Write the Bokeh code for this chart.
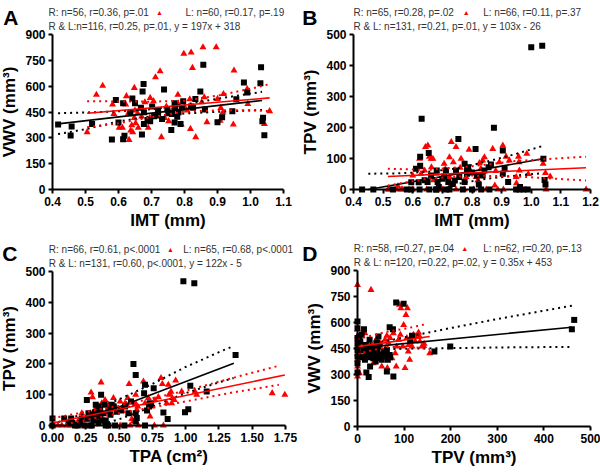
from bokeh.plotting import figure
from bokeh.layouts import row, column
from bokeh.models import Range1d, FixedTicker, Label, NumeralTickFormatter, LinearAxis
from bokeh.embed import file_html
from bokeh.resources import INLINE

FONT = "Liberation Sans"

# ---------------- Panel A: VWV vs IMT ----------------
A_R_x = [0.417,0.458,0.455,0.52,0.58,0.592,0.60,0.614,0.618,0.614,0.642,0.65,0.636,0.676,0.673,0.668,0.677,0.677,0.671,0.696,
         0.702,0.708,0.72,0.732,0.738,0.748,0.751,0.76,0.762,0.77,0.772,0.77,0.778,0.782,0.788,0.792,0.796,0.82,0.826,0.833,
         0.848,0.857,0.862,0.90,0.914,0.945,0.957,0.98,0.99,1.032,1.03,1.038,1.036,1.042,0.72,0.688]
A_R_y = [377,366,313,381,290,520,389,501,312,292,528,501,443,613,569,474,449,381,319,397,
         482,426,430,410,580,464,443,346,439,501,478,389,422,449,381,474,513,482,474,526,
         569,724,464,391,420,455,524,621,563,710,617,416,397,315,459,404]
A_L_x = [0.505,0.533,0.552,0.582,0.602,0.612,0.624,0.632,0.637,0.64,0.643,0.648,0.652,0.658,0.66,0.67,0.69,0.696,0.706,0.712,
         0.726,0.73,0.745,0.752,0.762,0.78,0.79,0.798,0.808,0.816,0.82,0.818,0.824,0.834,0.856,0.86,0.868,0.896,0.90,0.908,
         0.918,0.95,0.948,0.99,1.042,1.058,0.63,0.695,0.65,0.622,0.782,0.91,0.74,0.586,0.68,0.852,0.916,0.992,0.802,0.648]
A_L_y = [333,550,602,493,358,358,542,288,342,373,333,590,385,443,358,424,358,532,513,652,
         687,304,482,397,459,550,377,788,459,524,795,352,706,304,826,536,391,826,526,400,
         555,691,377,584,381,455,443,416,459,493,493,474,416,439,507,507,447,497,474,416]
A_R_fit_x = [0.417, 1.035]
A_R_fit_y = [381, 517]
A_R_hi_x = [0.417, 0.50, 0.60, 0.70, 0.80, 0.90, 1.035]
A_R_hi_y = [443, 447, 454, 466, 493, 527, 567]
A_R_lo_x = [0.417, 0.50, 0.60, 0.70, 0.80, 0.90, 1.035]
A_R_lo_y = [322, 350, 395, 425, 441, 451, 462]
A_L_fit_x = [0.505, 1.058]
A_L_fit_y = [443, 532]
A_L_hi_x = [0.505, 0.60, 0.70, 0.80, 0.90, 1.00, 1.058]
A_L_hi_y = [513, 511, 510, 516, 545, 585, 612]
A_L_lo_x = [0.505, 0.60, 0.70, 0.80, 0.90, 1.00, 1.058]
A_L_lo_y = [362, 385, 420, 452, 460, 460, 455]
A_xticks = [0.4, 0.5, 0.6, 0.7, 0.8, 0.9, 1.0, 1.1]
A_yticks = [0, 150, 300, 450, 600, 750, 900]

# ---------------- Panel B: TPV vs IMT ----------------
B_R_x = [0.429,0.467,0.533,0.595,0.623,0.63,0.625,0.625,0.611,0.595,0.62,0.65,0.654,0.662,0.681,0.684,0.688,0.679,0.706,0.712,
         0.72,0.724,0.742,0.746,0.754,0.769,0.775,0.783,0.787,0.783,0.8,0.812,0.817,0.823,0.831,0.836,0.842,0.856,0.864,0.874,
         0.904,0.91,0.922,0.949,0.962,0.974,1.0,1.037,1.041,1.045,1.048,0.988,0.656,0.68,0.757,0.775,0.713,0.859,0.904,0.735,
         0.64,0.70,0.80,0.58,0.96]
B_R_y = [0,0,0,0,0,228,106,77,67,23,23,24,118,45,61,24,8,0,42,61,
         24,0,29,61,163,0,24,61,72,51,0,131,45,16,0,45,61,72,81,199,
         126,67,24,0,8,0,459,464,99,31,16,0,0,0,40,83,0,0,51,18,
         30,35,55,0,0]
B_L_x = [0.516,0.544,0.566,0.623,0.628,0.643,0.651,0.656,0.662,0.668,0.64,0.647,0.663,0.69,0.706,0.724,0.73,0.737,0.746,0.763,
         0.746,0.774,0.79,0.794,0.805,0.814,0.825,0.836,0.842,0.848,0.87,0.877,0.887,0.904,0.906,0.915,0.926,0.949,0.957,0.985,
         0.96,1.048,1.05,1.064,1.185,0.521,0.561,0.6,0.7,0.679,0.78,0.83,0.892,0.628,0.724,0.958,1.04,0.60,0.67,0.76,
         0.82,0.95,0.88,0.71,0.55,0.99]
B_L_y = [0,0,0,99,72,137,142,106,99,99,61,0,72,0,83,104,153,88,137,99,
         0,0,128,61,0,40,85,94,104,0,131,13,0,142,0,106,94,40,106,115,
         61,53,0,42,0,0,0,0,0,51,40,67,88,51,40,88,83,45,30,70,
         30,20,60,65,10,50]
B_R_fit_x = [0.45, 1.04]
B_R_fit_y = [0, 99]
B_R_hi_x = [0.45, 0.55, 0.65, 0.75, 0.85, 0.95, 1.04]
B_R_hi_y = [51, 52, 57, 68, 90, 115, 141]
B_R_lo_x = [0.68, 0.75, 0.85, 0.95, 1.04]
B_R_lo_y = [0, 18, 35, 45, 53]
B_L_fit_x = [0.516, 1.185]
B_L_fit_y = [42, 70]
B_L_hi_x = [0.516, 0.65, 0.80, 0.95, 1.185]
B_L_hi_y = [67, 63, 75, 92, 106]
B_L_lo_x = [0.516, 0.65, 0.80, 0.95, 1.185]
B_L_lo_y = [13, 35, 45, 42, 29]
B_xticks = [0.4, 0.5, 0.6, 0.7, 0.8, 0.9, 1.0, 1.1, 1.2]
B_yticks = [0, 100, 200, 300, 400, 500]

# ---------------- Panel C: TPV vs TPA ----------------
C_R_x = [0,0,0.088,0.14,0.15,0.17,0.19,0.24,0.258,0.265,0.283,0.295,0.308,0.325,0.34,0.35,0.358,0.365,0.375,0.39,
         0.4,0.4,0.42,0.435,0.445,0.46,0.515,0.54,0.59,0.608,0.625,0.633,0.625,0.695,0.695,0.71,0.725,0.74,0.76,0.833,
         0.865,0.983,0.995,1.02,1.035,1.065,1.158,1.375,0.22,0.32,0.383,0.345,0.27,0.47,0.12,0.21,0.42,0.545,0.73,0.688,
         0.625,0.345,0.57,0.483,0.308,0.36]
C_R_y = [23,0,23,23,8,0,0,0,83,23,0,0,16,67,35,29,51,100,16,67,
         16,0,0,35,67,62,49,0,78,200,164,24,13,132,0,49,62,67,121,42,
         21,468,43,53,129,462,110,229,23,40,40,8,40,0,8,8,51,62,72,105,
         40,62,40,45,35,30]
C_L_x = [0,0.04,0.07,0.108,0.133,0.245,0.195,0.29,0.3,0.258,0.365,0.37,0.408,0.433,0.47,0.508,0.545,0.575,0.565,0.583,
         0.595,0.608,0.625,0.64,0.645,0.683,0.695,0.733,0.765,0.815,0.825,0.833,0.875,0.89,0.9,0.915,0.925,1.07,1.083,1.65,
         1.745,0.22,0.32,0.395,0.458,0.52,0.558,0.62,0.72,0.77,0.795,0.858,0.158,0.175,0.225,0.508,0.583,0.745,0.633,0.42,
         0.345,0.283,0.87,0.895,0.97]
C_L_y = [0,0,0,0,0,0,16,107,92,18,140,72,42,51,62,78,72,135,89,40,
         21,13,100,62,0,143,72,29,0,154,135,0,100,110,89,83,146,110,100,105,
         100,40,51,83,89,51,67,70,89,83,92,72,0,0,0,0,0,62,51,67,
         24,40,132,72,110]
C_R_fit_x = [0.133, 1.362]
C_R_fit_y = [0, 202]
C_R_hi_x = [0.0, 0.25, 0.5, 0.75, 1.0, 1.25, 1.36]
C_R_hi_y = [5, 40, 85, 135, 190, 238, 258]
C_R_lo_x = [0.33, 0.5, 0.75, 1.0, 1.25, 1.36]
C_R_lo_y = [0, 20, 62, 105, 140, 154]
C_L_fit_x = [0.0, 1.745]
C_L_fit_y = [8, 164]
C_L_hi_x = [0.0, 0.5, 1.0, 1.35, 1.70]
C_L_hi_y = [24, 64, 113, 154, 194]
C_L_lo_x = [0.05, 0.5, 1.0, 1.35, 1.70]
C_L_lo_y = [0, 40, 78, 107, 132]
C_xticks = [0.0, 0.25, 0.5, 0.75, 1.0, 1.25, 1.5, 1.75]
C_yticks = [0, 100, 200, 300, 400, 500]

# ---------------- Panel D: VWV vs TPV ----------------
D_R_x = [0,0,0,0,0,0,0,0,14,6,19,24,26,27,31,33,36,38,42,43,
         45,49,52,56,59,63,65,69,76,69,77,83,99,117,113,165,199,460,465,20,
         34,13,24,57,47,29,39,16,63,9,22,4,10,30,50,70,35,18]
D_R_y = [606,567,510,477,442,404,365,312,561,490,312,285,500,346,419,461,433,404,485,446,
         519,413,385,404,408,317,385,573,561,413,288,715,708,523,496,433,462,561,615,423,
         394,442,452,427,461,400,375,385,442,529,413,520,400,430,395,400,415,470]
D_L_x = [0,0,0,0,29,63,64,66,83,90,93,99,102,104,107,109,112,115,120,131,
         133,142,143,155,6,9,13,20,31,38,45,49,54,59,70,77,84,92,97,106,
         117,124,134,0,0,4,16,42,34,74,81,52,138,0,25,60,88,110,0,15,
         40,125]
D_L_y = [817,288,519,461,788,523,337,485,346,702,683,586,337,644,683,433,385,496,529,542,
         519,465,477,423,423,481,404,471,452,490,433,477,404,500,510,538,461,529,461,510,
         461,490,490,385,346,308,538,442,365,394,423,346,461,560,420,450,500,470,420,440,
         500,520]
D_R_fit_x = [0, 460]
D_R_fit_y = [452, 573]
D_R_hi_x = [0, 60, 130, 200, 300, 400, 460]
D_R_hi_y = [470, 492, 530, 568, 620, 668, 697]
D_R_lo_x = [0, 60, 130, 200, 300, 400, 460]
D_R_lo_y = [432, 446, 450, 452, 456, 458, 458]
D_L_fit_x = [0, 155]
D_L_fit_y = [461, 519]
D_L_hi_x = [0, 60, 107, 150]
D_L_hi_y = [504, 545, 567, 592]
D_L_lo_x = [0, 60, 107, 155]
D_L_lo_y = [419, 458, 462, 446]
D_xticks = [0, 100, 200, 300, 400, 500]
D_yticks = [0, 150, 300, 450, 600, 750, 900]

PANEL_W, PANEL_H = 300, 236


def make_panel(letter, xlim, ylim, frame_px, xticks, yticks, xfmt, xlabel, ylabel,
               Rx, Ry, Lx, Ly, Rf, Rhi, Rlo, Lf, Lhi, Llo,
               s1R, s1L, s2, offs):
    (x0, x1), (y0, y1) = xlim, ylim
    px0, px1, py0, py1 = frame_px          # pixel of x0, x1; pixel (from top) of y0, y1
    kx = (px1 - px0) / (x1 - x0)
    ky = (py0 - py1) / (y1 - y0)
    xr = Range1d(x0 - px0 / kx, x0 + (PANEL_W - px0) / kx)
    yr = Range1d(y0 - (PANEL_H - py0) / ky, y1 + py1 / ky)
    p = figure(width=PANEL_W, height=PANEL_H, x_range=xr, y_range=yr,
               output_backend="svg", toolbar_location=None,
               x_axis_location=None, y_axis_location=None, min_border=0)
    p.outline_line_color = None
    p.grid.visible = False
    p.background_fill_color = "white"
    p.border_fill_color = "white"

    xax = LinearAxis(fixed_location=y0, bounds=(x0, x1))
    yax = LinearAxis(fixed_location=x0, bounds=(y0, y1))
    for ax in (xax, yax):
        ax.axis_line_width = 2
        ax.axis_line_color = "black"
        ax.major_tick_line_width = 2
        ax.major_tick_line_color = "black"
        ax.major_tick_out = 4
        ax.major_tick_in = 0
        ax.minor_tick_line_color = None
        ax.major_label_text_font = FONT
        ax.major_label_text_font_style = "bold"
        ax.major_label_text_font_size = "12px"
        ax.major_label_text_color = "black"
        ax.major_label_standoff = 3
        ax.axis_label_text_font = FONT
        ax.axis_label_text_font_style = "bold"
        ax.axis_label_text_font_size = "17px"
        ax.axis_label_text_color = "black"
    xax.ticker = FixedTicker(ticks=xticks)
    yax.ticker = FixedTicker(ticks=yticks)
    xax.formatter = NumeralTickFormatter(format=xfmt)
    yax.formatter = NumeralTickFormatter(format="0")
    xax.axis_label = xlabel
    yax.axis_label = ylabel
    xax.axis_label_standoff = 2
    yax.axis_label_standoff = 3
    p.add_layout(xax, "below")
    p.add_layout(yax, "left")

    p.scatter(Lx, Ly, marker="triangle", size=7, color="#ff0000", line_width=0)
    p.scatter(Rx, Ry, marker="square", size=6, color="black", line_width=0)
    p.line(*Rhi, color="black", line_width=2, line_dash="2 4")
    p.line(*Rlo, color="black", line_width=2, line_dash="2 4")
    p.line(*Rf, color="black", line_width=1.6)
    p.line(*Lhi, color="#ff0000", line_width=2, line_dash="2 4")
    p.line(*Llo, color="#ff0000", line_width=2, line_dash="2 4")
    p.line(*Lf, color="#ff0000", line_width=1.6)

    rdx, tdx, ldx, y1o, y2o, lx, ly = offs
    common = dict(text_font=FONT, text_font_size="10px", text_color="#333333",
                  text_baseline="middle", text_align="left")
    p.add_layout(Label(x=x0, y=y1, x_offset=rdx, y_offset=y1o, text=s1R, **common))
    p.add_layout(Label(x=x0, y=y1, x_offset=tdx, y_offset=y1o, text="\u25B2",
                       text_font=FONT, text_font_size="7px", text_color="#ff0000",
                       text_baseline="middle", text_align="center"))
    p.add_layout(Label(x=x0, y=y1, x_offset=ldx, y_offset=y1o, text=s1L, **common))
    p.add_layout(Label(x=x0, y=y1, x_offset=rdx, y_offset=y2o, text=s2, **common))
    p.add_layout(Label(x=x0, y=y1, x_offset=lx, y_offset=ly, text=letter,
                       text_font=FONT, text_font_style="bold", text_font_size="21px",
                       text_color="black", text_baseline="alphabetic", text_align="left"))
    return p


pA = make_panel("A", (0.4, 1.1), (0, 900), (52, 283, 189, 34), A_xticks, A_yticks, "0.0",
                "IMT (mm)", "VWV (mm\u00b3)",
                A_R_x, A_R_y, A_L_x, A_L_y,
                (A_R_fit_x, A_R_fit_y), (A_R_hi_x, A_R_hi_y), (A_R_lo_x, A_R_lo_y),
                (A_L_fit_x, A_L_fit_y), (A_L_hi_x, A_L_hi_y), (A_L_lo_x, A_L_lo_y),
                "R: n=56, r=0.36, p=.01", "L: n=60, r=0.17, p=.19",
                "R & L:n=116, r=0.25, p=.01, y = 197x + 318",
                (-4, 107, 133, 21.7, 8.3, -49.3, 17.3))
pB = make_panel("B", (0.4, 1.2), (0, 500), (53, 290, 189, 34), B_xticks, B_yticks, "0.0",
                "IMT (mm)", "TPV (mm\u00b3)",
                B_R_x, B_R_y, B_L_x, B_L_y,
                (B_R_fit_x, B_R_fit_y), (B_R_hi_x, B_R_hi_y), (B_R_lo_x, B_R_lo_y),
                (B_L_fit_x, B_L_fit_y), (B_L_hi_x, B_L_hi_y), (B_L_lo_x, B_L_lo_y),
                "R: n=65, r=0.28, p=.02", "L: n=66, r=0.11, p=.37",
                "R & L: n=131, r=0.21, p=.01, y = 103x - 26",
                (0, 112.7, 129.7, 21.7, 8.3, -51.3, 17))
pC = make_panel("C", (0, 1.75), (0, 500), (52, 285, 189, 35), C_xticks, C_yticks, "0.00",
                "TPA (cm\u00b2)", "TPV (mm\u00b3)",
                C_R_x, C_R_y, C_L_x, C_L_y,
                (C_R_fit_x, C_R_fit_y), (C_R_hi_x, C_R_hi_y), (C_R_lo_x, C_R_lo_y),
                (C_L_fit_x, C_L_fit_y), (C_L_hi_x, C_L_hi_y), (C_L_lo_x, C_L_lo_y),
                "R: n=66, r=0.61, p<.0001", "L: n=65, r=0.68, p<.0001",
                "R & L: n=131, r=0.60, p<.0001, y = 122x - 5",
                (-3.7, 118, 130.7, 21.7, 8.3, -50.3, 18.3))
pD = make_panel("D", (0, 500), (0, 900), (57, 290, 190, 34), D_xticks, D_yticks, "0",
                "TPV (mm\u00b3)", "VWV (mm\u00b3)",
                D_R_x, D_R_y, D_L_x, D_L_y,
                (D_R_fit_x, D_R_fit_y), (D_R_hi_x, D_R_hi_y), (D_R_lo_x, D_R_lo_y),
                (D_L_fit_x, D_L_fit_y), (D_L_hi_x, D_L_hi_y), (D_L_lo_x, D_L_lo_y),
                "R: n=58, r=0.27, p=.04", "L: n=62, r=0.20, p=.13",
                "R & L: n=120, r=0.22, p=.02, y = 0.35x + 453",
                (-3.7, 107.3, 125.7, 21.7, 8, -55.3, 16.7))

layout = column(row(pA, pB), row(pC, pD))
open("out.html", "w").write(file_html(layout, INLINE))
